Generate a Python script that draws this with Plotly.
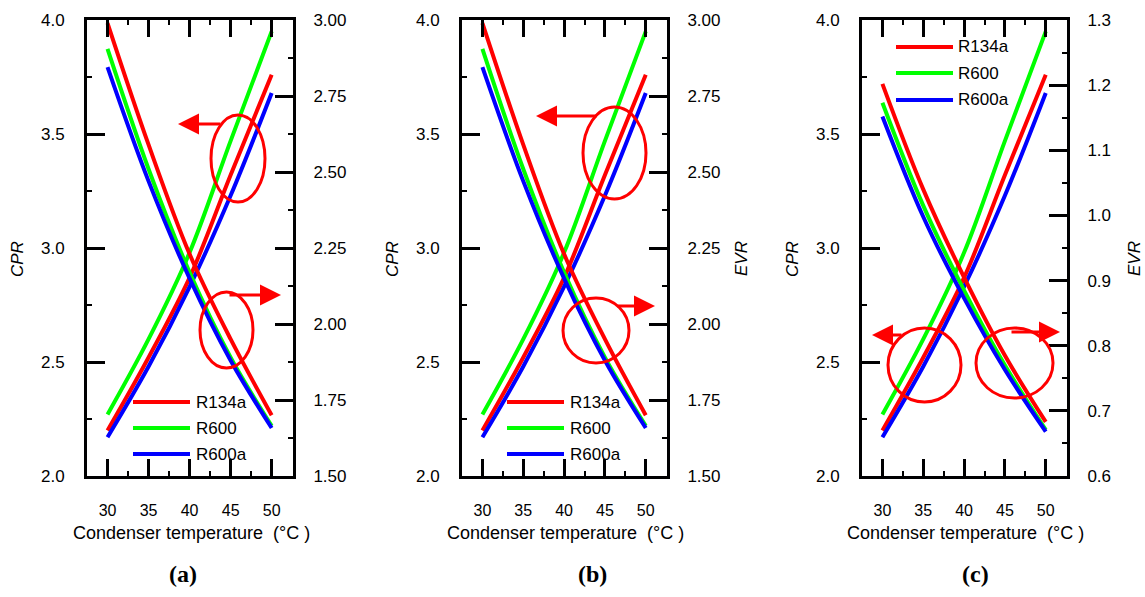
import plotly.graph_objects as go

W, H = 1145, 597

# ---------------- data ----------------
temps = [30, 35, 40, 45, 50]
refrigerants = ["R134a", "R600", "R600a"]
colors = ["#ff0000", "#00ff00", "#0000ff"]

# CPR (left axis, all panels)
cpr_r134a = [2.20, 2.52, 2.87, 3.32, 3.76]
cpr_r600 = [2.27, 2.60, 2.98, 3.47, 3.95]
cpr_r600a = [2.17, 2.48, 2.83, 3.23, 3.68]

# right axis, panel (a)
ra_r134a = [2.99, 2.59, 2.23, 1.95, 1.70]
ra_r600 = [2.905, 2.51, 2.17, 1.89, 1.665]
ra_r600a = [2.845, 2.47, 2.15, 1.88, 1.658]

# EVR, panel (b)
evr_b_r134a = [2.99, 2.59, 2.23, 1.95, 1.70]
evr_b_r600 = [2.905, 2.51, 2.17, 1.89, 1.665]
evr_b_r600a = [2.845, 2.47, 2.15, 1.88, 1.658]

# EVR, panel (c)
evr_c_r134a = [1.202, 1.04, 0.905, 0.785, 0.683]
evr_c_r600 = [1.173, 1.015, 0.885, 0.770, 0.671]
evr_c_r600a = [1.152, 0.998, 0.873, 0.763, 0.668]

cpr = [cpr_r134a, cpr_r600, cpr_r600a]
right_sets = [
    [ra_r134a, ra_r600, ra_r600a],
    [evr_b_r134a, evr_b_r600, evr_b_r600a],
    [evr_c_r134a, evr_c_r600, evr_c_r600a],
]

FONT = "Liberation Sans, Arial, sans-serif"
MAJ = "#000001"
MIN = "black"


def px(x):
    return x / W


def py(y):
    return 1 - y / H


panels = [
    dict(L=87, R=293, rrange=[1.5, 3.0], rdtick=0.25, rminor=0.125, rfmt=".2f",
         rtitle=None, label="(a)", labx=183, cprx=18, evrx=None,
         leg=dict(x0=133, x1=190, tx=194, rows=[402, 428, 454])),
    dict(L=462, R=667, rrange=[1.5, 3.0], rdtick=0.25, rminor=0.125, rfmt=".2f",
         rtitle="EVR", label="(b)", labx=592, cprx=393, evrx=742,
         leg=dict(x0=507, x1=564, tx=568, rows=[402, 428, 454])),
    dict(L=862, R=1067, rrange=[0.6, 1.3], rdtick=0.1, rminor=0.05, rfmt=".1f",
         rtitle="EVR", label="(c)", labx=975, cprx=793, evrx=1135,
         leg=dict(x0=896, x1=953, tx=956, rows=[47, 73, 100])),
]

TOP, BOT = 20, 476
ydom = [py(BOT), py(TOP)]

fig = go.Figure()
layout = dict(
    template="none",
    width=W, height=H, margin=dict(l=0, r=0, t=0, b=0, pad=0, autoexpand=False),
    paper_bgcolor="white", plot_bgcolor="rgba(0,0,0,0)", showlegend=False,
    font=dict(family=FONT, color="black"),
)
shapes = []
annotations = []

for i, p in enumerate(panels):
    xs = "" if i == 0 else str(i + 1)
    yl = "" if i == 0 else str(2 * i + 1)
    yr = str(2 * i + 2)
    xref = "x" + xs
    ylref = "y" + yl
    yrref = "y" + yr

    layout["xaxis" + xs] = dict(
        domain=[px(p["L"]), px(p["R"])], range=[27.5, 52.6], anchor=ylref,
        automargin=False,
        showline=True, linewidth=3, linecolor=MAJ, mirror="ticks",
        ticks="inside", ticklen=17, tickwidth=3, tickcolor=MAJ,
        tick0=30, dtick=5, showgrid=False, zeroline=False,
        minor=dict(ticks="inside", ticklen=5, tickwidth=2, tickcolor=MIN, dtick=2.5, tick0=30, showgrid=False),
        tickfont=dict(size=16, family=FONT), ticklabelstandoff=18,
    )
    layout["yaxis" + yl] = dict(
        domain=ydom, range=[2.0, 4.0], anchor=xref,
        automargin=False,
        showline=True, linewidth=3, linecolor=MAJ,
        ticks="inside", ticklen=18, tickwidth=3, tickcolor=MAJ,
        tick0=2.0, dtick=0.5, tickformat=".1f", showgrid=False, zeroline=False,
        minor=dict(ticks="inside", ticklen=5, tickwidth=2, tickcolor=MIN, dtick=0.25, tick0=2.0, showgrid=False),
        tickfont=dict(size=17, family=FONT), ticklabelstandoff=16,
    )
    layout["yaxis" + yr] = dict(
        range=p["rrange"], anchor=xref, overlaying=ylref, side="right",
        automargin=False,
        showline=True, linewidth=3, linecolor=MAJ,
        ticks="inside", ticklen=18, tickwidth=3, tickcolor=MAJ,
        tick0=p["rrange"][0], dtick=p["rdtick"], tickformat=p["rfmt"],
        showgrid=False, zeroline=False,
        minor=dict(ticks="inside", ticklen=5, tickwidth=2, tickcolor=MIN, dtick=p["rminor"], tick0=p["rrange"][0], showgrid=False),
        tickfont=dict(size=17, family=FONT), ticklabelstandoff=14,
    )

    for k, name in enumerate(refrigerants):
        fig.add_trace(go.Scatter(
            x=temps, y=cpr[k], mode="lines", name=name,
            line=dict(color=colors[k], width=4, shape="spline"),
            xaxis=xref, yaxis=ylref, showlegend=False,
        ))
        fig.add_trace(go.Scatter(
            x=temps, y=right_sets[i][k], mode="lines", name=name,
            line=dict(color=colors[k], width=4, shape="spline"),
            xaxis=xref, yaxis=yrref, showlegend=False,
        ))

    # legend (manual)
    lg = p["leg"]
    for k, name in enumerate(refrigerants):
        yy = lg["rows"][k]
        shapes.append(dict(type="line", xref="paper", yref="paper",
                           x0=px(lg["x0"]), x1=px(lg["x1"]), y0=py(yy), y1=py(yy),
                           line=dict(color=colors[k], width=4)))
        annotations.append(dict(xref="paper", yref="paper", x=px(lg["tx"]), y=py(yy),
                                xanchor="left", yanchor="middle", text=name, showarrow=False,
                                font=dict(size=17, family=FONT, color="black")))

    # axis titles & panel labels
    cx = (p["L"] + p["R"]) / 2
    annotations.append(dict(xref="paper", yref="paper", x=px(cx + 1), y=py(533),
                            xanchor="center", yanchor="middle",
                            text="Condenser temperature  (°C )", showarrow=False,
                            font=dict(size=18, family=FONT)))
    annotations.append(dict(xref="paper", yref="paper", x=px(p["labx"]), y=py(574),
                            xanchor="center", yanchor="middle",
                            text="<b>" + p["label"] + "</b>", showarrow=False,
                            font=dict(size=24, family="Liberation Serif, Times New Roman, serif")))
    annotations.append(dict(xref="paper", yref="paper", x=px(p["cprx"]), y=py(259),
                            xanchor="center", yanchor="middle", textangle=-90,
                            text="<i>CPR</i>", showarrow=False,
                            font=dict(size=17, family=FONT)))
    if p["rtitle"]:
        annotations.append(dict(xref="paper", yref="paper", x=px(p["evrx"]), y=py(259),
                                xanchor="center", yanchor="middle", textangle=-90,
                                text="<i>" + p["rtitle"] + "</i>", showarrow=False,
                                font=dict(size=17, family=FONT)))


def ellipse(x0, x1, y0, y1):
    return dict(type="circle", xref="paper", yref="paper",
                x0=px(x0), x1=px(x1), y0=py(y1), y1=py(y0),
                line=dict(color="#ff0000", width=3))


def arrow(tail, tip):
    return dict(xref="paper", yref="paper", x=px(tip[0]), y=py(tip[1]),
                axref="pixel", ayref="pixel", ax=tail[0] - tip[0], ay=tail[1] - tip[1],
                text="", showarrow=True, arrowhead=2, arrowsize=1.4, arrowwidth=3,
                arrowcolor="#ff0000", standoff=0, startstandoff=0)


# annotation ellipses & arrows
shapes += [
    ellipse(211, 265, 115, 202), ellipse(200, 253, 292, 368),
    ellipse(583, 646, 107, 199), ellipse(563, 629, 298, 363),
    ellipse(888, 961, 328, 402), ellipse(976, 1053, 328, 398),
]
annotations += [
    arrow((222, 124), (178, 124)), arrow((228, 295), (281, 295)),
    arrow((598, 116), (536, 116)), arrow((616, 306), (655, 306)),
    arrow((903, 335), (872, 335)), arrow((1010, 332), (1060, 332)),
]

layout["shapes"] = shapes
layout["annotations"] = annotations
fig.update_layout(**layout)

fig.write_html("out.html")
